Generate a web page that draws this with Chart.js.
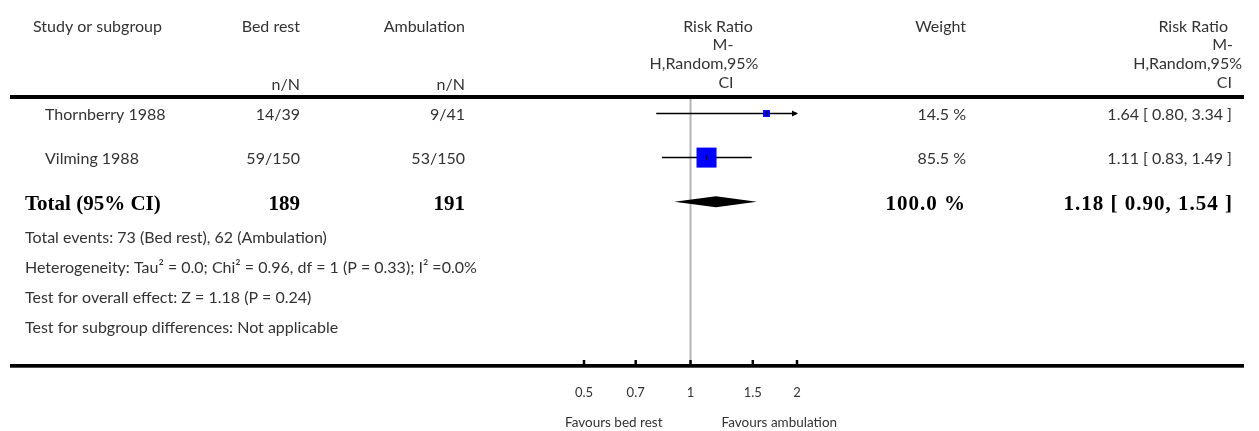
<!DOCTYPE html>
<html>
<head>
<meta charset="utf-8">
<script src="https://cdn.jsdelivr.net/npm/chart.js@4.4.1/dist/chart.umd.min.js"></script>
<style>
    html, body { margin: 0; padding: 0; background: #fff; }
    #wrap { width: 1259px; height: 431px; }
</style>
</head>
<body>
<div id="wrap"><canvas id="ForestChart" width="1259" height="431"></canvas></div>
<script>
// study rows
const studies = ["Thornberry 1988", "Vilming 1988"];
const bedEvents = [14, 59];
const bedTotals = [39, 150];
const ambEvents = [9, 53];
const ambTotals = [41, 150];
const weights = [14.5, 85.5];
const riskRatios = [1.64, 1.11];
const ciLower = [0.80, 0.83];
const ciUpper = [3.34, 1.49];

// pooled result
const totalBed = 189;
const totalAmb = 191;
const totalWeight = 100.0;
const totalRR = 1.18;
const totalLower = 0.90;
const totalUpper = 1.54;

const xTicks = [0.5, 0.7, 1, 1.5, 2];
const favourLabels = ["Favours bed rest", "Favours ambulation"];
const footnotes = [
    "Total events: 73 (Bed rest), 62 (Ambulation)",
    "Heterogeneity: Tau\u00B2 = 0.0; Chi\u00B2 = 0.96, df = 1 (P = 0.33); I\u00B2 =0.0%",
    "Test for overall effect: Z = 1.18 (P = 0.24)",
    "Test for subgroup differences: Not applicable",
];

const SANS = "Lato, 'Open Sans', sans-serif";
const SERIF = "'Liberation Serif', 'DejaVu Serif', serif";
const TEXT = "#333";

const rows = studies.map((s, i) => i + 1);
const totalRow = studies.length + 1;

function boxRadius(ctx) {
    const w = weights[ctx.dataIndex];
    const side = 20 * Math.pow(w / Math.max(...weights), 0.6);
    return side / Math.SQRT2;
}

function fmt(v) {
    return v.toFixed(2);
}

function text(ctx, str, x, y, align, font, color, spacing) {
    ctx.font = font;
    ctx.fillStyle = color || TEXT;
    ctx.textAlign = align;
    ctx.textBaseline = "middle";
    ctx.letterSpacing = spacing || "0px";
    ctx.fillText(str, x, y);
    ctx.letterSpacing = "0px";
}

const forestPlugin = {
    id: "forest",
    beforeDatasetsDraw(chart) {
        const { ctx, chartArea, scales } = chart;
        const x1 = scales.x.getPixelForValue(1);
        ctx.save();
        // line of no effect
        ctx.strokeStyle = "#b5b5b5";
        ctx.lineWidth = 2;
        ctx.beginPath();
        ctx.moveTo(x1, chartArea.top);
        ctx.lineTo(x1, chartArea.bottom);
        ctx.stroke();
        ctx.restore();
    },
    afterDatasetsDraw(chart) {
        const { ctx, chartArea, scales } = chart;
        const x = scales.x;
        const y = scales.y;
        ctx.save();

        // arrows for intervals running off the axis
        rows.forEach((r, i) => {
            const py = y.getPixelForValue(r);
            if (ciUpper[i] > x.max) {
                const px = chartArea.right;
                ctx.fillStyle = "#000";
                ctx.beginPath();
                ctx.moveTo(px + 1, py);
                ctx.lineTo(px - 5, py - 3);
                ctx.lineTo(px - 5, py + 3);
                ctx.closePath();
                ctx.fill();
            }
            if (ciLower[i] < x.min) {
                const px = chartArea.left;
                ctx.fillStyle = "#000";
                ctx.beginPath();
                ctx.moveTo(px - 1, py);
                ctx.lineTo(px + 5, py - 3);
                ctx.lineTo(px + 5, py + 3);
                ctx.closePath();
                ctx.fill();
            }
        });

        // pooled diamond
        const dy = y.getPixelForValue(totalRow);
        ctx.fillStyle = "#000";
        ctx.beginPath();
        ctx.moveTo(x.getPixelForValue(totalLower), dy);
        ctx.lineTo(x.getPixelForValue(totalRR), dy - 5.5);
        ctx.lineTo(x.getPixelForValue(totalUpper), dy);
        ctx.lineTo(x.getPixelForValue(totalRR), dy + 5.5);
        ctx.closePath();
        ctx.fill();
        ctx.restore();
    },
    afterDraw(chart) {
        const { ctx, chartArea, scales } = chart;
        const x = scales.x;
        const y = scales.y;
        const font = "16px " + SANS;
        const bold = "bold 21px " + SERIF;
        const small = "13.5px " + SANS;
        ctx.save();

        // header rules
        ctx.fillStyle = "#000";
        ctx.fillRect(10, chartArea.top - 2, 1234, 4);
        ctx.fillRect(10, chartArea.bottom - 2, 1234, 3.7);

        // column headers
        text(ctx, "Study or subgroup", 33, 27, "left", font);
        text(ctx, "Bed rest", 300, 27, "right", font);
        text(ctx, "Ambulation", 465, 27, "right", font);
        text(ctx, "n/N", 300, 85, "right", font);
        text(ctx, "n/N", 465, 85, "right", font);
        text(ctx, "Risk Ratio", 718, 27, "center", font);
        text(ctx, "M-", 723, 45, "center", font);
        text(ctx, "H,Random,95%", 704, 64, "center", font);
        text(ctx, "CI", 726, 83, "center", font);
        text(ctx, "Weight", 966, 27, "right", font);
        text(ctx, "Risk Ratio", 1228, 27, "right", font);
        text(ctx, "M-", 1233, 45, "right", font);
        text(ctx, "H,Random,95%", 1242, 64, "right", font);
        text(ctx, "CI", 1232, 83, "right", font);

        // study rows
        rows.forEach((r, i) => {
            const py = y.getPixelForValue(r) + 1.5;
            text(ctx, studies[i], 45, py, "left", font);
            text(ctx, bedEvents[i] + "/" + bedTotals[i], 300, py, "right", font);
            text(ctx, ambEvents[i] + "/" + ambTotals[i], 465, py, "right", font);
            text(ctx, weights[i].toFixed(1) + " %", 966, py, "right", font);
            text(ctx, fmt(riskRatios[i]) + " [ " + fmt(ciLower[i]) + ", " + fmt(ciUpper[i]) + " ]", 1232, py, "right", font);
        });

        // total row
        const ty = y.getPixelForValue(totalRow) + 3;
        text(ctx, "Total (95% CI)", 25, ty, "left", bold, "#000");
        text(ctx, String(totalBed), 300, ty, "right", bold, "#000");
        text(ctx, String(totalAmb), 465, ty, "right", bold, "#000");
        text(ctx, totalWeight.toFixed(1) + " %", 966, ty, "right", bold, "#000", "1px");
        text(ctx, fmt(totalRR) + " [ " + fmt(totalLower) + ", " + fmt(totalUpper) + " ]", 1233, ty, "right", bold, "#000", "1px");

        // footnotes
        footnotes.forEach((f, i) => {
            text(ctx, f, 25, ty + 33 + i * 30, "left", font);
        });

        // axis ticks and labels
        ctx.strokeStyle = "#000";
        ctx.lineWidth = 2.5;
        xTicks.forEach(t => {
            const px = x.getPixelForValue(t);
            ctx.beginPath();
            ctx.moveTo(px, chartArea.bottom - 6);
            ctx.lineTo(px, chartArea.bottom);
            ctx.stroke();
            text(ctx, String(t), px, chartArea.bottom + 27, "center", "13px " + SANS);
        });
        const x1 = x.getPixelForValue(1);
        text(ctx, favourLabels[0], x1 - 28, chartArea.bottom + 57, "right", small);
        text(ctx, favourLabels[1], x1 + 31, chartArea.bottom + 57, "left", small);

        ctx.restore();
    },
};

function ForestChart() {
    const ctx = document.getElementById("ForestChart");

    new Chart(ctx, {
        type: "scatter",
        data: {
            datasets: [
                // confidence intervals
                ...rows.map((r, i) => ({
                    type: "line",
                    data: [{ x: ciLower[i], y: r }, { x: ciUpper[i], y: r }],
                    borderColor: "#000",
                    borderWidth: 1.5,
                    pointRadius: 0,
                    clip: 0,
                    order: 3,
                })),
                // study estimates, box size by weight
                {
                    data: rows.map((r, i) => ({ x: riskRatios[i], y: r })),
                    pointStyle: "rect",
                    pointRadius: boxRadius,
                    backgroundColor: "#0000ff",
                    borderWidth: 0,
                    clip: false,
                    order: 2,
                },
                // centre marks
                {
                    data: rows.map((r, i) => ({ x: riskRatios[i], y: r })),
                    pointStyle: "line",
                    rotation: 90,
                    pointRadius: 2.5,
                    borderColor: "#000",
                    borderWidth: 1.2,
                    clip: false,
                    order: 1,
                },
            ],
        },
        options: {
            responsive: false,
            animation: false,
            layout: {
                padding: { left: 584, right: 462, top: 97, bottom: 65 },
            },
            plugins: {
                legend: { display: false },
                tooltip: { enabled: false },
            },
            scales: {
                x: {
                    type: "logarithmic",
                    min: 0.5,
                    max: 2,
                    display: false,
                },
                y: {
                    type: "linear",
                    reverse: true,
                    min: 0.626,
                    max: 6.726,
                    display: false,
                },
            },
        },
        plugins: [forestPlugin],
    });
}

ForestChart();
</script>
</body>
</html>
